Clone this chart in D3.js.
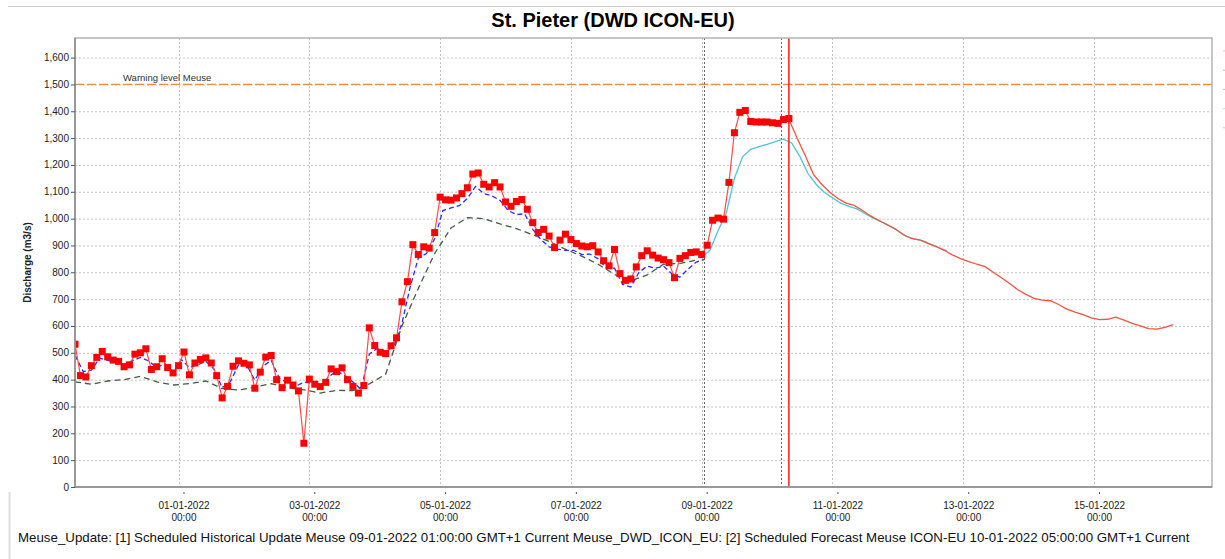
<!DOCTYPE html>
<html>
<head>
<meta charset="utf-8">
<script src="https://cdn.jsdelivr.net/npm/d3@7"></script>
<style>
  body { margin: 0; background: #fff; font-family: "Liberation Sans", Arial, sans-serif; }
  .grid line { stroke: #c4c4c4; stroke-dasharray: 2,2; }
  .tick-label { font-size: 10px; fill: #222; }
</style>
</head>
<body>
<script>
// St. Pieter discharge, observed + simulations + forecast

// observed (red squares), every 2 hours from 30-12-2021 08:00
var obsStart = "30-12-2021 08:00", obsStep = 2;
var obsValues = [532, 415, 410, 452, 483, 505, 485, 473, 468, 448,
  455, 495, 500, 515, 438, 448, 478, 445, 425, 452,
  503, 418, 462, 475, 481, 462, 415, 332, 375, 450,
  470, 461, 455, 368, 428, 484, 490, 400, 370, 398,
  380, 358, 163, 402, 383, 374, 390, 440, 430, 444,
  400, 375, 350, 378, 593, 527, 502, 497, 526, 556,
  690, 765, 903, 866, 895, 890, 948, 1080, 1070, 1069,
  1077, 1093, 1115, 1166, 1170, 1128, 1118, 1134, 1118, 1062,
  1046, 1064, 1071, 1035, 985, 948, 960, 935, 892, 920,
  942, 922, 907, 898, 895, 899, 876, 843, 824, 885,
  795, 770, 775, 820, 862, 880, 864, 853, 847, 836,
  780, 852, 862, 874, 876, 866, 901, 994, 1002, 998,
  1135, 1320, 1396, 1403, 1362, 1360, 1360, 1360, 1357, 1355,
  1369, 1373];

// historical simulation (blue dashed), every 3 hours
var blueStart = "30-12-2021 08:00", blueStep = 3;
var blueValues = [491, 430, 435, 480, 472, 465, 457, 470, 483, 470,
  445, 460, 430, 475, 445, 455, 468, 440, 370, 392,
  455, 455, 398, 450, 472, 405, 388, 376, 390, 387,
  372, 410, 432, 416, 391, 365, 495, 517, 505, 525,
  610, 745, 853, 870, 925, 1030, 1040, 1048, 1075, 1120,
  1093, 1085, 1068, 1030, 1015, 1018, 960, 922, 895, 886,
  882, 882, 866, 868, 850, 815, 815, 755, 745, 800,
  823, 815, 823, 795, 782, 812, 838, 848];

// second simulation (dark green dashed), every 6 hours
var greenStart = "30-12-2021 08:00", greenStep = 6;
var greenValues = [392, 383, 395, 400, 412, 392, 380, 385, 395, 367,
  361, 372, 385, 370, 362, 350, 360, 359, 384, 420,
  600, 740, 870, 965, 1004, 1000, 980, 963, 940, 915,
  886, 860, 830, 792, 768, 790, 830, 833, 845];

// cyan run, every 3 hours
var cyanStart = "08-01-2022 22:00", cyanStep = 3;
var cyanValues = [855, 882, 955, 1020, 1150, 1230, 1258, 1268, 1277, 1287,
  1296, 1282, 1232, 1168, 1128, 1098, 1078, 1058, 1046, 1036,
  1018, 1002, 988, 972, 955, 935, 924, 918, 905, 892, 880];

// ICON-EU forecast (red line), every 3 hours
var fcStart = "10-01-2022 06:00", fcStep = 3;
var fcValues = [1370, 1300, 1235, 1165, 1128, 1098, 1075, 1058, 1049, 1030,
  1010, 993, 978, 962, 940, 926, 921, 908, 896, 882,
  865, 851, 840, 830, 821, 800, 780, 758, 735, 718,
  703, 696, 694, 680, 663, 652, 642, 630, 624, 625,
  633, 622, 610, 600, 590, 588, 595, 605];

var xTickDates = ["01-01-2022", "03-01-2022", "05-01-2022", "07-01-2022",
  "09-01-2022", "11-01-2022", "13-01-2022", "15-01-2022"];
var yTicks = [0, 100, 200, 300, 400, 500, 600, 700, 800, 900, 1000,
  1100, 1200, 1300, 1400, 1500, 1600];
var warningLevel = 1500;
var markerLines = ["08-01-2022 23:00", "10-01-2022 03:00"];
var forecastTime = "10-01-2022 06:00";

var width = 1225, height = 559;
var plot = {left: 75, right: 1212, top: 38, bottom: 487};

var parseDate = d3.utcParse("%d-%m-%Y %H:%M");

var svg = d3.select("body").append("svg")
    .attr("width", width)
    .attr("height", height);

var xScale = d3.scaleUtc()
    .domain([parseDate("30-12-2021 08:00"), parseDate("16-01-2022 17:17")])
    .range([plot.left, plot.right]);
var yScale = d3.scaleLinear()
    .domain([0, 1673])
    .range([plot.bottom, plot.top]);

function series(start, step, values) {
  var t0 = parseDate(start);
  return values.map(function(v, i) { return {t: d3.utcHour.offset(t0, i * step), v: v}; });
}

var line = d3.line()
    .x(function(d) { return xScale(d.t); })
    .y(function(d) { return yScale(d.v); });

// frame lines outside the chart
svg.append("line").attr("x1", 8).attr("x2", width).attr("y1", 6.5).attr("y2", 6.5)
    .attr("stroke", "#cfcfcf");
svg.append("line").attr("x1", 9.5).attr("x2", 9.5).attr("y1", 492).attr("y2", height)
    .attr("stroke", "#dedede").attr("stroke-width", 2);

// title
svg.append("text")
    .attr("x", 613).attr("y", 27)
    .attr("text-anchor", "middle")
    .style("font-size", "20px").style("font-weight", "bold")
    .text("St. Pieter (DWD ICON-EU)");

svg.append("defs").append("clipPath").attr("id", "clip")
  .append("rect").attr("x", plot.left).attr("y", plot.top)
    .attr("width", plot.right - plot.left).attr("height", plot.bottom - plot.top);

// grid
var grid = svg.append("g").attr("class", "grid");
grid.selectAll(".hg").data(yTicks.slice(1)).enter().append("line")
    .attr("x1", plot.left).attr("x2", plot.right)
    .attr("y1", function(d) { return yScale(d) + 0.5; })
    .attr("y2", function(d) { return yScale(d) + 0.5; });
grid.selectAll(".vg").data(xTickDates).enter().append("line")
    .attr("x1", function(d) { return Math.round(xScale(d3.utcHour.offset(parseDate(d + " 00:00"), -2))) + 0.5; })
    .attr("x2", function(d) { return Math.round(xScale(d3.utcHour.offset(parseDate(d + " 00:00"), -2))) + 0.5; })
    .attr("y1", plot.top).attr("y2", plot.bottom);

// warning level
svg.append("line")
    .attr("x1", plot.left).attr("x2", plot.right)
    .attr("y1", yScale(warningLevel)).attr("y2", yScale(warningLevel))
    .attr("stroke", "#f08a3c").attr("stroke-width", 1.3)
    .attr("stroke-dasharray", "9,3");
svg.append("text")
    .attr("x", 123).attr("y", yScale(warningLevel) - 3)
    .style("font-size", "9.5px").attr("fill", "#333")
    .text("Warning level Meuse");

// dark dotted time markers
svg.selectAll(".marker").data(markerLines).enter().append("line")
    .attr("x1", function(d) { return Math.round(xScale(parseDate(d))) + 0.5; })
    .attr("x2", function(d) { return Math.round(xScale(parseDate(d))) + 0.5; })
    .attr("y1", plot.top).attr("y2", plot.bottom)
    .attr("stroke", "#666").attr("stroke-dasharray", "2,2");

var chart = svg.append("g").attr("clip-path", "url(#clip)");

chart.append("path").datum(series(greenStart, greenStep, greenValues))
    .attr("d", line).attr("fill", "none")
    .attr("stroke", "#3f5e3f").attr("stroke-width", 1.3).attr("stroke-dasharray", "6,4");
chart.append("path").datum(series(blueStart, blueStep, blueValues))
    .attr("d", line).attr("fill", "none")
    .attr("stroke", "#2a2cff").attr("stroke-width", 1.3).attr("stroke-dasharray", "5,3");
chart.append("path").datum(series(cyanStart, cyanStep, cyanValues))
    .attr("d", line).attr("fill", "none")
    .attr("stroke", "#4ec3dc").attr("stroke-width", 1.3);
chart.append("path").datum(series(fcStart, fcStep, fcValues))
    .attr("d", line).attr("fill", "none")
    .attr("stroke", "#f3553c").attr("stroke-width", 1.3);

var obs = series(obsStart, obsStep, obsValues);
chart.append("path").datum(obs)
    .attr("d", line).attr("fill", "none")
    .attr("stroke", "#ff4a4a").attr("stroke-width", 1.2);
chart.selectAll(".sq").data(obs).enter().append("rect")
    .attr("x", function(d) { return xScale(d.t) - 3.5; })
    .attr("y", function(d) { return yScale(d.v) - 3.5; })
    .attr("width", 7).attr("height", 7)
    .attr("fill", "#ff0000");

// forecast time
svg.append("line")
    .attr("x1", xScale(parseDate(forecastTime))).attr("x2", xScale(parseDate(forecastTime)))
    .attr("y1", plot.top).attr("y2", plot.bottom)
    .attr("stroke", "#ff1a1a").attr("stroke-width", 1.5);

// plot border
svg.append("rect")
    .attr("x", plot.left).attr("y", plot.top)
    .attr("width", plot.right - plot.left).attr("height", plot.bottom - plot.top)
    .attr("fill", "none").attr("stroke", "#b4b4b4").attr("stroke-width", 1.5);
svg.append("line").attr("x1", plot.left).attr("x2", plot.left)
    .attr("y1", plot.top).attr("y2", plot.bottom + 1)
    .attr("stroke", "#8a8a8a").attr("stroke-width", 1.5);
svg.append("line").attr("x1", plot.left).attr("x2", plot.right)
    .attr("y1", plot.bottom).attr("y2", plot.bottom)
    .attr("stroke", "#8a8a8a").attr("stroke-width", 1.5);

// y axis ticks and labels
var yAxis = svg.append("g");
yAxis.selectAll("line").data(yTicks).enter().append("line")
    .attr("x1", plot.left - 4).attr("x2", plot.left)
    .attr("y1", function(d) { return yScale(d) + 0.5; })
    .attr("y2", function(d) { return yScale(d) + 0.5; })
    .attr("stroke", "#555");
yAxis.selectAll("text").data(yTicks).enter().append("text")
    .attr("class", "tick-label")
    .attr("x", plot.left - 6)
    .attr("y", function(d) { return yScale(d) + 3.5; })
    .attr("text-anchor", "end")
    .text(d3.format(","));

svg.append("text")
    .attr("transform", "translate(31," + ((plot.top + plot.bottom) / 2) + ")rotate(-90)")
    .attr("text-anchor", "middle")
    .style("font-size", "10px").style("font-weight", "bold").attr("fill", "#222")
    .text("Discharge (m3/s)");

// x axis ticks and labels
var xAxis = svg.append("g");
xTickDates.forEach(function(d) {
  var x = xScale(parseDate(d + " 00:00"));
  xAxis.append("line").attr("x1", x).attr("x2", x)
      .attr("y1", plot.bottom + 5).attr("y2", plot.bottom + 7).attr("stroke", "#555");
  xAxis.append("text").attr("class", "tick-label").attr("x", x).attr("y", 509)
      .attr("text-anchor", "middle").text(d);
  xAxis.append("text").attr("class", "tick-label").attr("x", x).attr("y", 521)
      .attr("text-anchor", "middle").text("00:00");
});

// cut-off legend stubs at the right edge
var legendColors = ["#f9b4b4", "#b8b8b8", "#b4b4f9", "#b0eaf2", "#f9b8aa"];
svg.selectAll(".leg").data(legendColors).enter().append("line")
    .attr("x1", 1223).attr("x2", 1225)
    .attr("y1", function(d, i) { return 51 + i * 19.2; })
    .attr("y2", function(d, i) { return 51 + i * 19.2; })
    .attr("stroke", function(d) { return d; }).attr("stroke-width", 1);

// footer
svg.append("text")
    .attr("x", 18).attr("y", 542)
    .style("font-size", "13.3px").attr("fill", "#111")
    .text("Meuse_Update: [1] Scheduled Historical Update Meuse 09-01-2022 01:00:00 GMT+1 Current Meuse_DWD_ICON_EU: [2] Scheduled Forecast Meuse ICON-EU 10-01-2022 05:00:00 GMT+1 Current");
</script>
</body>
</html>
